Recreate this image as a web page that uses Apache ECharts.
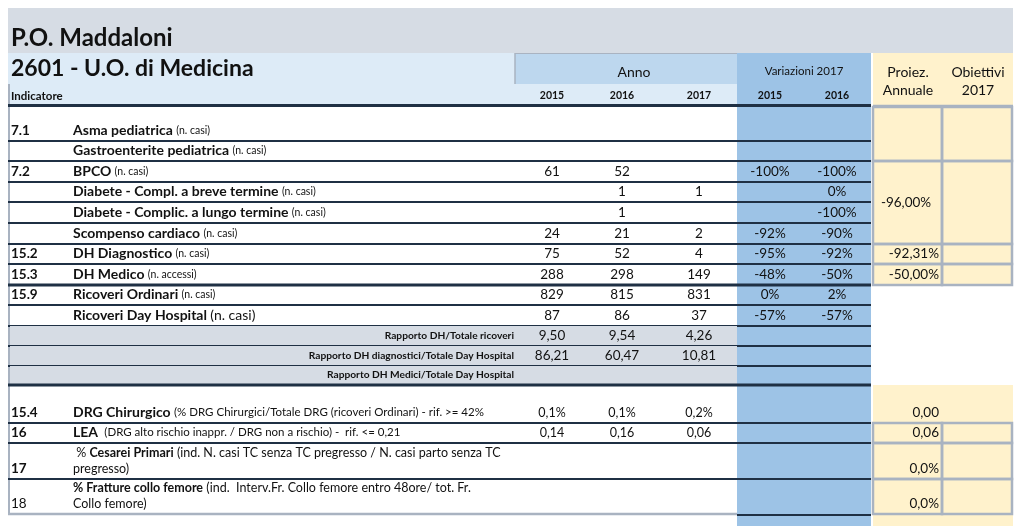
<!DOCTYPE html>
<html><head><meta charset="utf-8">
<script src="https://cdn.jsdelivr.net/npm/echarts@6/dist/echarts.min.js"></script>
<style>html,body{margin:0;padding:0;background:#fff}#c{width:1023px;height:526px}</style>
</head><body><div id="c"></div>
<script>
// ---------- DATA ----------
const title = 'P.O. Maddaloni';
const unitTitle = '2601 - U.O. di Medicina';
const colHeader = 'Indicatore';
const annoLabel = 'Anno';
const varLabel = 'Variazioni 2017';
const yearLabels = ['2015', '2016', '2017'];
const varYears = ['2015', '2016'];
const proiezHeader = ['Proiez.', 'Annuale'];
const obiettiviHeader = ['Obiettivi', '2017'];

const codes = ['7.1', '', '7.2', '', '', '', '15.2', '15.3', '15.9', '', '', '', '', '15.4', '16', '17', '18'];
const names = ['Asma pediatrica', 'Gastroenterite pediatrica', 'BPCO', 'Diabete - Compl. a breve termine',
  'Diabete - Complic. a lungo termine', 'Scompenso cardiaco', 'DH Diagnostico', 'DH Medico',
  'Ricoveri Ordinari', 'Ricoveri Day Hospital', 'Rapporto DH/Totale ricoveri',
  'Rapporto DH diagnostici/Totale Day Hospital', 'Rapporto DH Medici/Totale Day Hospital',
  'DRG Chirurgico', 'LEA', 'Cesarei Primari', '% Fratture collo femore'];
const notes = ['(n. casi)', '(n. casi)', '(n. casi)', '(n. casi)', '(n. casi)', '(n. casi)', '(n. casi)',
  '(n. accessi)', '(n. casi)', '(n. casi)', '', '', '',
  '(% DRG Chirurgici/Totale DRG (ricoveri Ordinari) - rif. >= 42%',
  ' (DRG alto rischio inappr. / DRG non a rischio) -  rif. <= 0,21',
  '(ind. N. casi TC senza TC pregresso / N. casi parto senza TC\npregresso)',
  '(ind.  Interv.Fr. Collo femore entro 48ore/ tot. Fr.\nCollo femore)'];
const anno2015 = [null, null, 61, null, null, 24, 75, 288, 829, 87, 9.50, 86.21, null, 0.1, 0.14, null, null];
const anno2016 = [null, null, 52, 1, 1, 21, 52, 298, 815, 86, 9.54, 60.47, null, 0.1, 0.16, null, null];
const anno2017 = [null, null, null, 1, null, 2, 4, 149, 831, 37, 4.26, 10.81, null, 0.2, 0.06, null, null];
const var2015 = [null, null, -100, null, null, -92, -95, -48, 0, -57, null, null, null, null, null, null, null];
const var2016 = [null, null, -100, 0, -100, -90, -92, -50, 2, -57, null, null, null, null, null, null, null];
const proiezione = [null, null, -96.00, null, null, null, -92.31, -50.00, null, null, null, null, null, 0.00, 0.06, 0.0, 0.0];
const obiettivi = [null, null, null, null, null, null, null, null, null, null, null, null, null, null, null, null, null];

// value formats per row
const valueFormat = ['int','int','int','int','int','int','int','int','int','int','dec2','dec2','dec2','pct1','dec2','pct1','pct1'];
const proiezFormat = ['', '', 'pct2', '', '', '', 'pct2', 'pct2', '', '', '', '', '', 'dec2', 'dec2', 'pct1', 'pct1'];

// ---------- LAYOUT (not data) ----------
const colX = { l: 8, name: 70, lab: 515, c15: 552, c16: 622, c17: 699, v15: 770, v16: 837, blueL: 737, blueR: 871, pL: 873, pM: 942, pR: 1013 };
const rowY = [107, 141, 161, 182, 202, 223, 244, 264, 285, 305, 326, 346, 366, 385, 423, 443, 479, 514];
const merges = [[0, 1, true], [2, 5, true], [6, 6, true], [7, 7, true], [13, 13, false], [14, 14, true], [15, 15, true], [16, 16, true]];
const ratioRows = [10, 11, 12];

const FF = 'Lato, "Open Sans", sans-serif';
const C = { band: '#d6dce4', light: '#ddebf7', anno: '#bdd7ee', blue: '#9dc3e6', cream: '#fff2cc', dark: '#1f3044', gray: '#a9b3c1', ratio: '#d6dce4', text: '#111' };

function fmt(v, k) {
  if (v === null || v === undefined) return '';
  if (k === 'int') return String(v);
  if (k === 'dec2') return v.toFixed(2).replace('.', ',');
  if (k === 'pct1') return v.toFixed(1).replace('.', ',') + '%';
  if (k === 'pct2') return v.toFixed(2).replace('.', ',') + '%';
  if (k === 'var') return v + '%';
  return String(v);
}

function P(api, x, y) { return api.coord([x, y]); }
function rectEl(api, x0, y0, x1, y1, style) {
  const a = P(api, x0, y0), b = P(api, x1, y1);
  return { type: 'rect', shape: { x: a[0], y: a[1], width: b[0] - a[0], height: b[1] - a[1] }, style: style };
}
function lineEl(api, x0, y0, x1, y1, color, w) {
  const a = P(api, x0, y0), b = P(api, x1, y1);
  return { type: 'line', shape: { x1: a[0], y1: a[1], x2: b[0], y2: b[1] }, style: { stroke: color, lineWidth: w } };
}
function textEl(api, x, y, text, opt) {
  const a = P(api, x, y);
  return { type: 'text', style: Object.assign({ x: a[0], y: a[1], text: text, fill: C.text, font: '13.5px ' + FF, align: 'left', verticalAlign: 'middle' }, opt || {}) };
}

function renderFrame(params, api) {
  const ch = [];
  ch.push(rectEl(api, colX.l, 8, colX.pR, 53, { fill: C.band }));
  ch.push(rectEl(api, colX.l, 53, colX.lab, 84, { fill: C.light }));
  ch.push(rectEl(api, colX.lab, 53, colX.blueL, 84, { fill: C.anno }));
  ch.push(rectEl(api, colX.l, 84, colX.blueL, 105, { fill: C.light }));
  ch.push(rectEl(api, colX.blueL, 53, colX.blueR, 526, { fill: C.blue }));
  ch.push(rectEl(api, colX.pL, 53, colX.pR, 285, { fill: C.cream }));
  ch.push(rectEl(api, colX.pL, 385, colX.pR, 526, { fill: C.cream }));
  ch.push(lineEl(api, colX.lab, 53, colX.lab, 84, C.gray, 1.5));
  ch.push(lineEl(api, colX.lab, 53.5, colX.blueL, 53.5, C.gray, 1));
  ch.push(lineEl(api, colX.l + 1, 84, colX.l + 1, 514, C.gray, 2));
  // header texts
  ch.push(textEl(api, 11, 38, title, { font: 'bold 24px ' + FF }));
  ch.push(textEl(api, 11, 69, unitTitle, { font: 'bold 23px ' + FF }));
  ch.push(textEl(api, 634, 72, annoLabel, { font: '14px ' + FF, align: 'center' }));
  ch.push(textEl(api, 804, 71, varLabel, { font: '11.5px ' + FF, align: 'center' }));
  ch.push(textEl(api, 11, 96, colHeader, { font: 'bold 11.5px ' + FF }));
  [colX.c15, colX.c16, colX.c17].forEach((x, i) => ch.push(textEl(api, x, 96, yearLabels[i], { font: 'bold 10.5px ' + FF, align: 'center' })));
  [colX.v15, colX.v16].forEach((x, i) => ch.push(textEl(api, x, 96, varYears[i], { font: 'bold 10.5px ' + FF, align: 'center' })));
  ch.push(textEl(api, 908, 72, proiezHeader[0], { font: '14px ' + FF, align: 'center' }));
  ch.push(textEl(api, 908, 90, proiezHeader[1], { font: '14px ' + FF, align: 'center' }));
  ch.push(textEl(api, 978, 72, obiettiviHeader[0], { font: '14px ' + FF, align: 'center' }));
  ch.push(textEl(api, 978, 90, obiettiviHeader[1], { font: '14px ' + FF, align: 'center' }));
  // header separators
  ch.push(lineEl(api, colX.l, 105.5, colX.blueR, 105.5, C.dark, 3));
  ch.push(lineEl(api, colX.pL, 106, colX.pR, 106, C.gray, 2.5));
  return { type: 'group', children: ch };
}

const RICH = {
  b: { font: 'bold 14px ' + FF, lineHeight: 16, fill: C.text },
  n: { font: '10.5px ' + FF, lineHeight: 16, fill: C.text },
  m: { font: '14px ' + FF, lineHeight: 16, fill: C.text },
  s: { font: '11.5px ' + FF, lineHeight: 16, fill: C.text },
  pb: { font: 'bold 12.5px ' + FF, lineHeight: 16, fill: C.text },
  p: { font: '12.5px ' + FF, lineHeight: 16, fill: C.text }
};
// which rich style for the name/note of each row
const nameTag = ['b','b','b','b','b','b','b','b','b','b','','','','b','b','pb','pb'];
const noteTag = ['n','n','n','n','n','n','n','n','n','m','','','','s','s','p','p'];
const prefix = ['','','','','','','','','','','','','','','',' % ',''];

function renderRow(params, api) {
  const r = api.value(0);
  const top = rowY[r], bot = rowY[r + 1];
  const ty = bot - 3;
  const ch = [];
  const isRatio = ratioRows.indexOf(r) >= 0;
  if (isRatio) ch.push(rectEl(api, colX.l + 2, top, colX.blueL, bot, { fill: C.ratio }));
  if (codes[r]) ch.push(textEl(api, 11, bot - 10, codes[r], { font: (r === 16 ? '' : 'bold ') + '13.5px ' + FF }));
  if (isRatio) {
    ch.push(textEl(api, 514, bot - 10.5, names[r], { font: 'bold 10.2px ' + FF, align: 'right' }));
  } else {
    const pre = prefix[r] ? '{p|' + prefix[r] + '}' : '';
    let noteTxt = '';
    if (notes[r]) {
      const tag = noteTag[r];
      noteTxt = ' ' + notes[r].split('\n').map(s => '{' + tag + '|' + s + '}').join('\n');
    }
    const s = pre + '{' + nameTag[r] + '|' + names[r] + '}' + noteTxt;
    const a = P(api, 73, ty);
    ch.push({ type: 'text', style: { x: a[0], y: a[1] + 0.5, text: s, align: 'left', verticalAlign: 'bottom', fill: C.text, rich: RICH } });
  }
  const vf = valueFormat[r];
  const vfont = (r === 13 || r === 14 ? '12.5px ' : '13.5px ') + FF;
  [[colX.c15, anno2015[r]], [colX.c16, anno2016[r]], [colX.c17, anno2017[r]]].forEach(([x, v]) => {
    const t = fmt(v, vf);
    if (t) ch.push(textEl(api, x, bot - 10, t, { font: vfont, align: 'center' }));
  });
  [[colX.v15, var2015[r]], [colX.v16, var2016[r]]].forEach(([x, v]) => {
    const t = fmt(v, 'var');
    if (t) ch.push(textEl(api, x, bot - 10, t, { font: vfont, align: 'center' }));
  });
  // bottom line
  const w = (r === 7 || r === 12) ? 3 : 2;
  if (r === codes.length - 1) {
    ch.push(lineEl(api, colX.l, bot, colX.blueL, bot, C.gray, 2.5));
    ch.push(lineEl(api, colX.blueL, bot + 1, colX.blueR, bot + 1, C.dark, 2));
  } else {
    ch.push(lineEl(api, colX.l, bot, colX.blueR, bot, C.dark, w));
  }
  return { type: 'group', children: ch };
}

function renderProiez(params, api) {
  const g = merges[api.value(0)];
  const r0 = g[0], r1 = g[1], border = g[2];
  const top = rowY[r0], bot = rowY[r1 + 1];
  const ch = [];
  if (border) {
    ch.push(rectEl(api, colX.pL, top, colX.pM, bot, { fill: 'none', stroke: C.gray, lineWidth: 2.5 }));
    ch.push(rectEl(api, colX.pM, top, colX.pR - 1, bot, { fill: 'none', stroke: C.gray, lineWidth: 2.5 }));
  }
  const v = proiezione[r0];
  const t = fmt(v, proiezFormat[r0]);
  if (t) {
    if (r1 > r0) ch.push(textEl(api, 906, (top + bot) / 2, t, { align: 'center' }));
    else ch.push(textEl(api, 939, bot - 10, t, { align: 'right' }));
  }
  const o = obiettivi[r0];
  if (o !== null) ch.push(textEl(api, 1008, bot - 10, String(o), { align: 'right' }));
  return { type: 'group', children: ch };
}

const chart = echarts.init(document.getElementById('c'), null, { renderer: 'canvas' });
chart.setOption({
  animation: false,
  backgroundColor: '#ffffff',
  grid: { left: 0, right: 0, top: 0, bottom: 0 },
  xAxis: { type: 'value', min: 0, max: 1023, show: false },
  yAxis: { type: 'value', min: 0, max: 526, inverse: true, show: false },
  series: [
    { type: 'custom', name: 'frame', z: 1, data: [[0, 0]], encode: { x: -1, y: -1 }, renderItem: renderFrame, silent: true },
    { type: 'custom', name: 'rows', z: 2, data: codes.map((c, i) => [i, 0]), encode: { x: -1, y: -1 }, renderItem: renderRow, silent: true },
    { type: 'custom', name: 'proiez', z: 3, data: merges.map((m, i) => [i, 0]), encode: { x: -1, y: -1 }, renderItem: renderProiez, silent: true }
  ]
});
</script>
</body></html>
